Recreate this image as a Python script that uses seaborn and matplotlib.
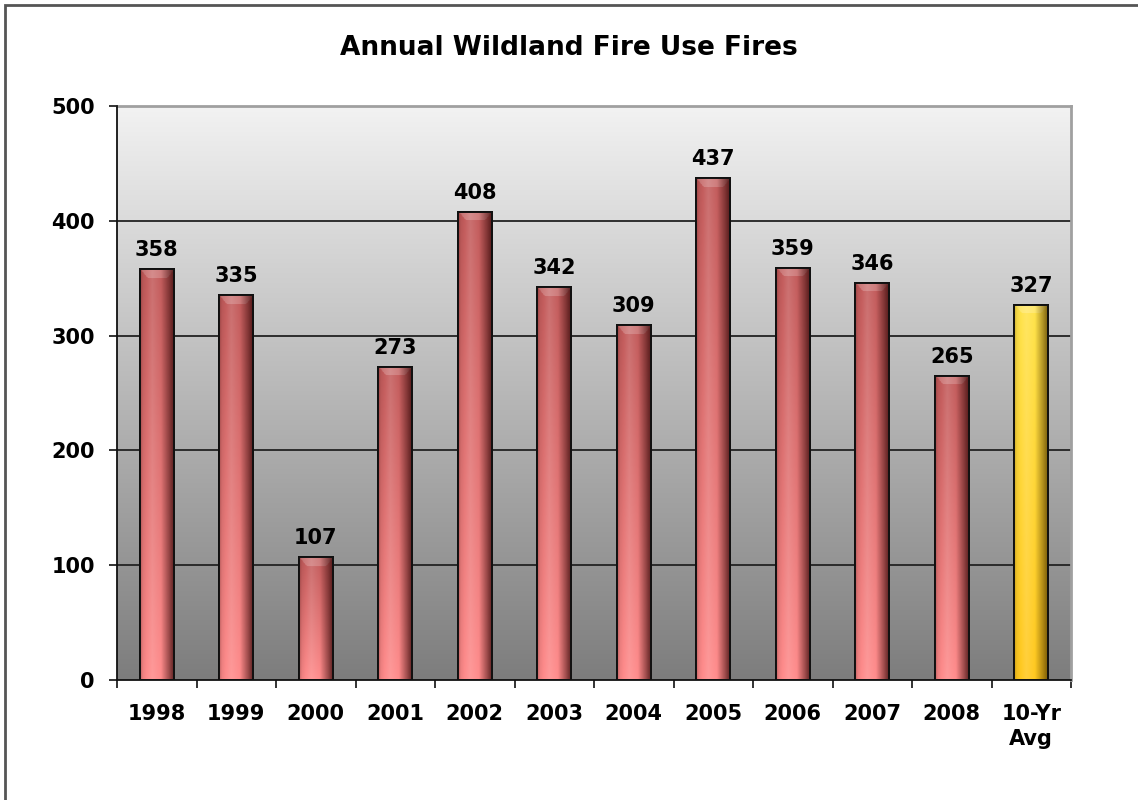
import numpy as np
import pandas as pd
import matplotlib
matplotlib.use("Agg")
import matplotlib.pyplot as plt
import seaborn as sns
from matplotlib.colors import to_rgb
from matplotlib.patches import Rectangle

categories = ["1998", "1999", "2000", "2001", "2002", "2003", "2004", "2005",
              "2006", "2007", "2008", "10-Yr\nAvg"]
values = [358, 335, 107, 273, 408, 342, 309, 437, 359, 346, 265, 327]
value_labels = ["358", "335", "107", "273", "408", "342", "309", "437",
                "359", "346", "265", "327"]
yticks = [0, 100, 200, 300, 400, 500]
title = "Annual Wildland Fire Use Fires"

sns.set_theme(style="white")
plt.rcParams['font.family'] = ['DejaVu Sans']
plt.rcParams['font.weight'] = 'bold'
plt.rcParams['text.color'] = 'black'
plt.rcParams['xtick.color'] = 'black'
plt.rcParams['ytick.color'] = 'black'

fig = plt.figure(figsize=(11.38, 8.0), dpi=100)
ax = fig.add_axes([117/1138, 1-680/800, (1071-117)/1138, (680-106)/800])

df = pd.DataFrame({"cat": categories, "val": values})
pal = {c: "#d06868" for c in categories}
pal[categories[-1]] = "#ffd030"
sns.barplot(data=df, x="cat", y="val", hue="cat", palette=pal, legend=False,
            width=0.43, ax=ax, edgecolor="black", linewidth=1.4, saturation=1,
            zorder=3)
bars = list(ax.patches)

ax.set_ylim(0, 500)
ax.set_xlim(-0.5, len(categories) - 0.5)

# background gradient
bg = np.linspace(0, 1, 256)[:, None]
top_c = np.array(to_rgb("#f2f2f2"))
bot_c = np.array(to_rgb("#7d7d7d"))
bg_img = top_c[None, None, :] * (1 - bg[..., None]) + bot_c[None, None, :] * bg[..., None]
ax.imshow(bg_img, extent=[0, 1, 0, 1], transform=ax.transAxes, aspect="auto",
          zorder=0, interpolation="bilinear")

# bar shading
def bar_image(top, bottom, edge, bevel_px, height_px):
    ny, nx = max(int(height_px), 20), 60
    t = np.linspace(0, 1, ny)[:, None, None]
    top = np.array(to_rgb(top)); bottom = np.array(to_rgb(bottom)); edge = np.array(to_rgb(edge))
    base = top[None, None, :] * (1 - t) + bottom[None, None, :] * t
    base = np.broadcast_to(base, (ny, nx, 3)).copy()
    # bevel at the top: lighter trapezoid
    nb = max(1, int(round(bevel_px / height_px * ny)))
    xs = np.linspace(0, 1, nx)
    for r in range(nb):
        d = (r + 0.5) / nb
        inset = 0.2 * (1 - d) + 0.0
        inset = 0.22 * d
        mask = (xs >= inset) & (xs <= 1 - inset)
        base[r, mask, :] = base[r, mask, :] * 0.8 + 0.2
    shade = np.interp(xs, [0, 0.08, 0.35, 0.6, 0.82, 1.0],
                      [0.3, 0.08, -0.12, 0.0, 0.45, 0.85])
    out = np.empty_like(base)
    for i, s in enumerate(shade):
        if s >= 0:
            out[:, i, :] = base[:, i, :] * (1 - s) + edge * s
        else:
            out[:, i, :] = base[:, i, :] * (1 + s) + 1.0 * (-s)
    return np.clip(out, 0, 1)

px_per_unit = (680 - 106) / 500.0
for i, p in enumerate(bars):
    x0, y0 = p.get_x(), p.get_y()
    w, h = p.get_width(), p.get_height()
    hp = h * px_per_unit
    if i == len(bars) - 1:
        img = bar_image("#ffe34c", "#ffc820", "#5a4000", 9, hp)
    else:
        img = bar_image("#c25c5c", "#ff8c8c", "#3a0a0a", 9, hp)
    im = ax.imshow(img, extent=[x0, x0 + w, y0, y0 + h], aspect="auto",
                   zorder=3.5, interpolation="bilinear")
    im.set_clip_path(p)
    ax.add_patch(Rectangle((x0, y0), w, h, fill=False, edgecolor="#111111",
                           linewidth=1.4, zorder=4))

# grid lines
for y in yticks[1:-1]:
    ax.axhline(y, color="#222222", linewidth=1.3, zorder=1)

# spines
for s in ["left", "bottom"]:
    ax.spines[s].set_color("#111111"); ax.spines[s].set_linewidth(1.3)
for s in ["top", "right"]:
    ax.spines[s].set_color("#a0a0a0"); ax.spines[s].set_linewidth(2)
ax.spines["left"].set_zorder(5); ax.spines["bottom"].set_zorder(5)

ax.set_yticks(yticks)
ax.set_yticklabels([str(v) for v in yticks], fontsize=15, fontweight="bold")
ax.tick_params(axis="y", which="major", direction="out", length=6, width=1.2,
               color="#111111", pad=10, left=True)
ax.set_xticks(range(len(categories)))
ax.set_xticklabels(categories, fontsize=15, fontweight="bold", linespacing=1.35,
                   va="top")
ax.tick_params(axis="x", which="major", length=0, pad=17)
ax.set_xticks(np.arange(-0.5, len(categories), 1), minor=True)
ax.tick_params(axis="x", which="minor", direction="out", length=6, width=1.2,
               color="#111111", bottom=True)
ax.set_xlabel(""); ax.set_ylabel("")

for p, lab in zip(bars, value_labels):
    ax.annotate(lab, (p.get_x() + p.get_width() / 2, p.get_height()),
                xytext=(0, 6.5), textcoords="offset points", ha="center",
                va="bottom", fontsize=15, fontweight="bold", zorder=6)

fig.text(0.5, 1 - 48/800, title, ha="center", va="center", fontsize=19,
         fontweight="bold")

# outer frame (top and left edges visible)
fig.patches.append(Rectangle((5/1138, -0.1), 1.2, (795/800) + 0.1,
                             transform=fig.transFigure, fill=False,
                             edgecolor="#555555", linewidth=2))

fig.savefig("out.png", dpi=100)
